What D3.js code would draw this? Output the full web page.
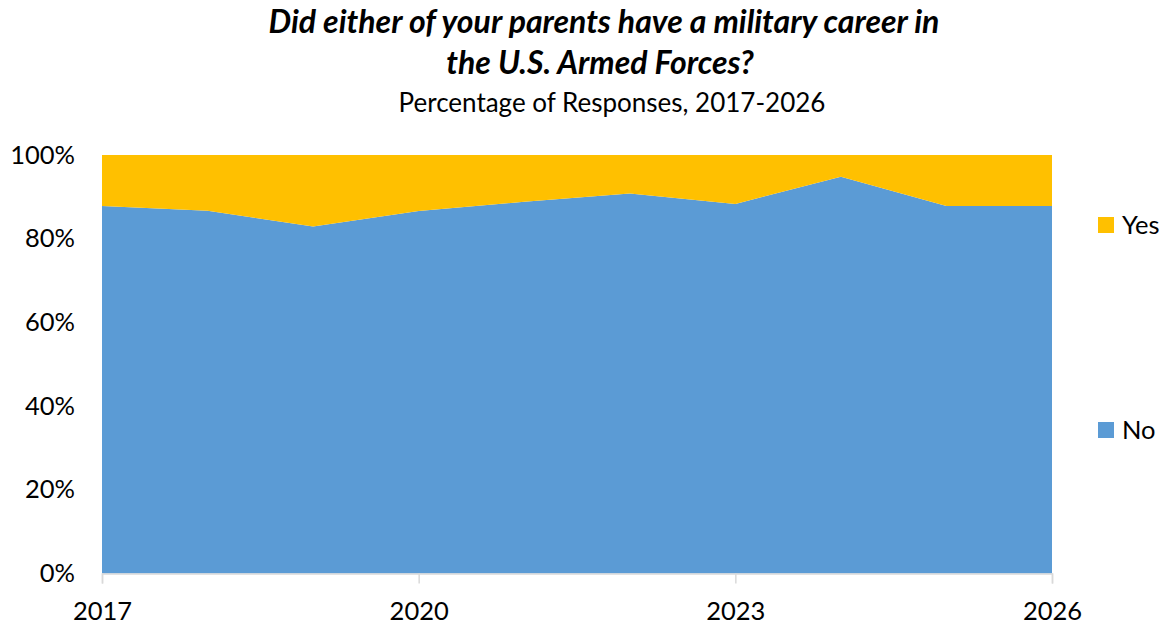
<!DOCTYPE html>
<html>
<head>
<meta charset="utf-8">
<script src="https://cdn.jsdelivr.net/npm/d3@7"></script>
<style>
  html, body { margin: 0; padding: 0; background: #fff; }
  svg { display: block; font-family: Lato, "Open Sans", sans-serif; }
</style>
</head>
<body>
<svg id="chart" width="1167" height="624"></svg>
<script>
const years = [2017, 2018, 2019, 2020, 2021, 2022, 2023, 2024, 2025, 2026];
const noValues  = [87.8, 86.7, 82.9, 86.6, 88.8, 90.8, 88.3, 94.8, 87.8, 87.8];
const yesValues = [12.2, 13.3, 17.1, 13.4, 11.2, 9.2, 11.7, 5.2, 12.2, 12.2];
const seriesKeys = ["No", "Yes"];
const xTickYears = [2017, 2020, 2023, 2026];
const yTickValues = [0, 20, 40, 60, 80, 100];
const titleLines = ["Did either of your parents have a military career in", "the U.S. Armed Forces?"];
const subtitle = "Percentage of Responses, 2017-2026";
const colors = { No: "#5B9BD5", Yes: "#FFC000" };

const table = years.map((y, i) => ({ year: y, No: noValues[i], Yes: yesValues[i] }));

const svg = d3.select("#chart");
const margin = { left: 102, right: 115, top: 155, bottom: 50.5 };
const W = 1167, H = 624;

const x = d3.scaleLinear().domain([2017, 2026]).range([margin.left, W - margin.right]);
const y = d3.scaleLinear().domain([0, 100]).range([H - margin.bottom, margin.top]);

const stacked = d3.stack().keys(seriesKeys)(table);
const area = d3.area()
  .x(d => x(d.data.year))
  .y0(d => y(d[0]))
  .y1(d => y(d[1]));

svg.append("g").selectAll("path")
  .data(stacked)
  .join("path")
  .attr("d", area)
  .attr("fill", d => colors[d.key]);

// x axis
const xAxis = d3.axisBottom(x).tickValues(xTickYears).tickFormat(d3.format("d")).tickSize(10).tickPadding(18);
const gx = svg.append("g").attr("transform", `translate(0,${y(0)})`).call(xAxis);
gx.select(".domain").attr("stroke", "#d9d9d9").attr("stroke-width", 1.5);
gx.selectAll(".tick line").attr("stroke", "#d9d9d9").attr("stroke-width", 1.5);
gx.selectAll(".tick text").attr("font-size", 25.5).attr("fill", "#000").attr("font-family", "Lato, sans-serif");

// y axis
const yAxis = d3.axisLeft(y).tickValues(yTickValues).tickFormat(d => d + "%").tickSize(0).tickPadding(27);
const gy = svg.append("g").attr("transform", `translate(${x(2017)},0)`).call(yAxis);
gy.select(".domain").remove();
gy.selectAll(".tick text").attr("font-size", 25.5).attr("fill", "#000").attr("font-family", "Lato, sans-serif");

// titles
svg.append("text").attr("x", 604).attr("y", 33).attr("text-anchor", "middle")
  .attr("font-size", 32).attr("font-weight", "bold").attr("font-style", "italic")
  .text(titleLines[0]);
svg.append("text").attr("x", 600).attr("y", 74).attr("text-anchor", "middle")
  .attr("font-size", 32).attr("font-weight", "bold").attr("font-style", "italic")
  .text(titleLines[1]);
svg.append("text").attr("x", 612).attr("y", 112).attr("text-anchor", "middle")
  .attr("font-size", 26)
  .text(subtitle);

// legend
const legendItems = [
  { key: "Yes", y: 225 },
  { key: "No", y: 430 }
];
const lg = svg.append("g");
legendItems.forEach(it => {
  lg.append("rect").attr("x", 1098).attr("y", it.y - 8).attr("width", 16).attr("height", 16).attr("fill", colors[it.key]);
  lg.append("text").attr("x", 1122).attr("y", it.y + 8.5).attr("font-size", 25.5).text(it.key);
});
</script>
</body>
</html>
